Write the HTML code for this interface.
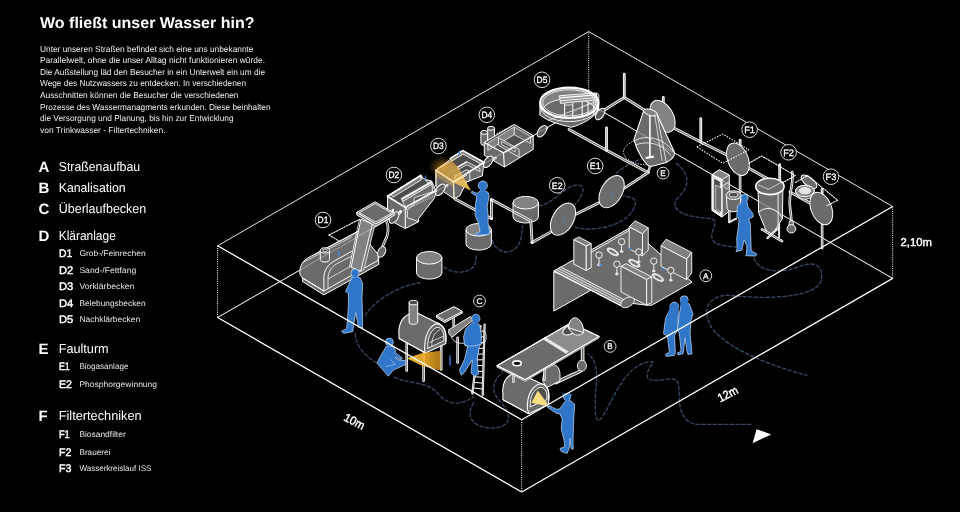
<!DOCTYPE html>
<html><head><meta charset="utf-8"><title>Wo fließt unser Wasser hin?</title>
<style>
html,body{margin:0;padding:0;background:#000;}
body{width:960px;height:512px;overflow:hidden;font-family:"Liberation Sans",sans-serif;}
svg{display:block;font-family:"Liberation Sans",sans-serif;will-change:transform;transform:translateZ(0);text-rendering:geometricPrecision;-webkit-font-smoothing:antialiased;}
</style></head><body>
<svg width="960" height="512" viewBox="0 0 960 512">
<rect width="960" height="512" fill="#000"/>
<text x="40" y="28.2" font-size="15.6" font-weight="bold" fill="#ffffff" text-anchor="start" textLength="214.5" lengthAdjust="spacingAndGlyphs" >Wo fließt unser Wasser hin?</text>
<text x="40" y="51.5" font-size="8.6" font-weight="normal" fill="#ededed" text-anchor="start" textLength="213.5" lengthAdjust="spacingAndGlyphs" >Unter unseren Straßen befindet sich eine uns unbekannte</text>
<text x="40" y="63.15" font-size="8.6" font-weight="normal" fill="#ededed" text-anchor="start" textLength="225" lengthAdjust="spacingAndGlyphs" >Parallelwelt, ohne die unser Alltag nicht funktionieren würde.</text>
<text x="40" y="74.8" font-size="8.6" font-weight="normal" fill="#ededed" text-anchor="start" textLength="225" lengthAdjust="spacingAndGlyphs" >Die Außstellung läd den Besucher in ein Unterwelt ein um die</text>
<text x="40" y="86.45" font-size="8.6" font-weight="normal" fill="#ededed" text-anchor="start" textLength="206" lengthAdjust="spacingAndGlyphs" >Wege des Nutzwassers zu entdecken. In verschiedenen</text>
<text x="40" y="98.1" font-size="8.6" font-weight="normal" fill="#ededed" text-anchor="start" textLength="198.5" lengthAdjust="spacingAndGlyphs" >Ausschnitten können die Besucher die verschiedenen</text>
<text x="40" y="109.75" font-size="8.6" font-weight="normal" fill="#ededed" text-anchor="start" textLength="230.5" lengthAdjust="spacingAndGlyphs" >Prozesse des Wassermanagments erkunden. Diese beinhalten</text>
<text x="40" y="121.4" font-size="8.6" font-weight="normal" fill="#ededed" text-anchor="start" textLength="193.5" lengthAdjust="spacingAndGlyphs" >die Versorgung und Planung, bis hin zur Entwicklung</text>
<text x="40" y="133.05" font-size="8.6" font-weight="normal" fill="#ededed" text-anchor="start" textLength="125.5" lengthAdjust="spacingAndGlyphs" >von Trinkwasser - Filtertechniken.</text>
<text x="38.6" y="172.2" font-size="15" font-weight="bold" fill="#ffffff" text-anchor="start" >A</text>
<text x="58.7" y="171.1" font-size="13" font-weight="normal" fill="#ffffff" text-anchor="start" textLength="81.4" lengthAdjust="spacingAndGlyphs" >Straßenaufbau</text>
<text x="38.6" y="193.2" font-size="15" font-weight="bold" fill="#ffffff" text-anchor="start" >B</text>
<text x="58.7" y="192.1" font-size="13" font-weight="normal" fill="#ffffff" text-anchor="start" textLength="66.9" lengthAdjust="spacingAndGlyphs" >Kanalisation</text>
<text x="38.6" y="213.8" font-size="15" font-weight="bold" fill="#ffffff" text-anchor="start" >C</text>
<text x="58.7" y="212.7" font-size="13" font-weight="normal" fill="#ffffff" text-anchor="start" textLength="87.6" lengthAdjust="spacingAndGlyphs" >Überlaufbecken</text>
<text x="38.6" y="240.9" font-size="15" font-weight="bold" fill="#ffffff" text-anchor="start" >D</text>
<text x="58.7" y="239.8" font-size="13" font-weight="normal" fill="#ffffff" text-anchor="start" textLength="57.1" lengthAdjust="spacingAndGlyphs" >Kläranlage</text>
<text x="38.6" y="354.1" font-size="15" font-weight="bold" fill="#ffffff" text-anchor="start" >E</text>
<text x="58.7" y="353" font-size="13" font-weight="normal" fill="#ffffff" text-anchor="start" textLength="50" lengthAdjust="spacingAndGlyphs" >Faulturm</text>
<text x="38.6" y="420.6" font-size="15" font-weight="bold" fill="#ffffff" text-anchor="start" >F</text>
<text x="58.7" y="419.5" font-size="13" font-weight="normal" fill="#ffffff" text-anchor="start" textLength="83" lengthAdjust="spacingAndGlyphs" >Filtertechniken</text>
<text x="58.9" y="257.4" font-size="11" font-weight="normal" fill="#ffffff" text-anchor="start" textLength="13.3" lengthAdjust="spacingAndGlyphs" stroke="#fff" stroke-width="0.45">D1</text>
<text x="79.4" y="255.9" font-size="8.2" font-weight="normal" fill="#e6e6e6" text-anchor="start" textLength="66.2" lengthAdjust="spacingAndGlyphs" >Grob-/Feinrechen</text>
<text x="58.9" y="273.7" font-size="11" font-weight="normal" fill="#ffffff" text-anchor="start" textLength="14.3" lengthAdjust="spacingAndGlyphs" stroke="#fff" stroke-width="0.45">D2</text>
<text x="79.4" y="272.9" font-size="8.2" font-weight="normal" fill="#e6e6e6" text-anchor="start" textLength="56.8" lengthAdjust="spacingAndGlyphs" >Sand-/Fettfang</text>
<text x="58.9" y="290" font-size="11" font-weight="normal" fill="#ffffff" text-anchor="start" textLength="14.3" lengthAdjust="spacingAndGlyphs" stroke="#fff" stroke-width="0.45">D3</text>
<text x="79.4" y="289.2" font-size="8.2" font-weight="normal" fill="#e6e6e6" text-anchor="start" textLength="55" lengthAdjust="spacingAndGlyphs" >Vorklärbecken</text>
<text x="58.9" y="306.6" font-size="11" font-weight="normal" fill="#ffffff" text-anchor="start" textLength="14.3" lengthAdjust="spacingAndGlyphs" stroke="#fff" stroke-width="0.45">D4</text>
<text x="79.4" y="305.8" font-size="8.2" font-weight="normal" fill="#e6e6e6" text-anchor="start" textLength="66.2" lengthAdjust="spacingAndGlyphs" >Belebungsbecken</text>
<text x="58.9" y="322.9" font-size="11" font-weight="normal" fill="#ffffff" text-anchor="start" textLength="14.3" lengthAdjust="spacingAndGlyphs" stroke="#fff" stroke-width="0.45">D5</text>
<text x="79.4" y="322.1" font-size="8.2" font-weight="normal" fill="#e6e6e6" text-anchor="start" textLength="60.8" lengthAdjust="spacingAndGlyphs" >Nachklärbecken</text>
<text x="58.9" y="370.2" font-size="11" font-weight="normal" fill="#ffffff" text-anchor="start" textLength="10.9" lengthAdjust="spacingAndGlyphs" stroke="#fff" stroke-width="0.45">E1</text>
<text x="79.4" y="369.4" font-size="8.2" font-weight="normal" fill="#e6e6e6" text-anchor="start" textLength="49" lengthAdjust="spacingAndGlyphs" >Biogasanlage</text>
<text x="58.9" y="387.5" font-size="11" font-weight="normal" fill="#ffffff" text-anchor="start" textLength="13" lengthAdjust="spacingAndGlyphs" stroke="#fff" stroke-width="0.45">E2</text>
<text x="79.4" y="386.7" font-size="8.2" font-weight="normal" fill="#e6e6e6" text-anchor="start" textLength="77.7" lengthAdjust="spacingAndGlyphs" >Phosphorgewinnung</text>
<text x="58.9" y="438" font-size="11" font-weight="normal" fill="#ffffff" text-anchor="start" textLength="10.9" lengthAdjust="spacingAndGlyphs" stroke="#fff" stroke-width="0.45">F1</text>
<text x="79.4" y="437.2" font-size="8.2" font-weight="normal" fill="#e6e6e6" text-anchor="start" textLength="46.3" lengthAdjust="spacingAndGlyphs" >Biosandfilter</text>
<text x="58.9" y="456.1" font-size="11" font-weight="normal" fill="#ffffff" text-anchor="start" textLength="12.4" lengthAdjust="spacingAndGlyphs" stroke="#fff" stroke-width="0.45">F2</text>
<text x="79.4" y="455.3" font-size="8.2" font-weight="normal" fill="#e6e6e6" text-anchor="start" textLength="31.1" lengthAdjust="spacingAndGlyphs" >Brauerei</text>
<text x="58.9" y="472.2" font-size="11" font-weight="normal" fill="#ffffff" text-anchor="start" textLength="12.4" lengthAdjust="spacingAndGlyphs" stroke="#fff" stroke-width="0.45">F3</text>
<text x="79.4" y="471.4" font-size="8.2" font-weight="normal" fill="#e6e6e6" text-anchor="start" textLength="72" lengthAdjust="spacingAndGlyphs" >Wasserkreislauf ISS</text>
<line x1="217.6" y1="317.5" x2="588.7" y2="103.6" stroke="#ffffff" stroke-width="0.9" />
<line x1="588.7" y1="103.6" x2="892.7" y2="278.4" stroke="#ffffff" stroke-width="0.9" />
<line x1="217.6" y1="245.8" x2="588.7" y2="31.6" stroke="#ffffff" stroke-width="0.9" />
<line x1="588.7" y1="31.6" x2="892.7" y2="206.5" stroke="#ffffff" stroke-width="0.9" />
<line x1="588.7" y1="31.6" x2="588.7" y2="103.6" stroke="#ffffff" stroke-width="1" stroke-dasharray="1 1.2"/>
<path d="M420.5,282.7 C400.2,285.4 374.8,299.1 364.3,316.7" fill="none" stroke="#384a62" stroke-width="1.3" stroke-linejoin="round" stroke-linecap="round" stroke-dasharray="3.4 2.3"/>
<path d="M355.3,333.5 C355.3,347.9 369,359.6 381.5,365.5" fill="none" stroke="#384a62" stroke-width="1.3" stroke-linejoin="round" stroke-linecap="round" stroke-dasharray="3.4 2.3"/>
<path d="M394.4,377.2 C408,384.3 427.6,381.1 437.3,392.9 S458.8,406.5 473.7,396.8" fill="none" stroke="#384a62" stroke-width="1.3" stroke-linejoin="round" stroke-linecap="round" stroke-dasharray="3.4 2.3"/>
<path d="M473.7,402.6 C462.7,420.2 478.4,428.8 494,428 S513.5,416.3 501,402.6 S494,381.1 502.6,371.4" fill="none" stroke="#384a62" stroke-width="1.3" stroke-linejoin="round" stroke-linecap="round" stroke-dasharray="3.4 2.3"/>
<path d="M444,267 C453,274.8 470.6,273.7 475.2,263.9 L476.4,254.1" fill="none" stroke="#384a62" stroke-width="1.3" stroke-linejoin="round" stroke-linecap="round" stroke-dasharray="3.4 2.3"/>
<path d="M492.3,240.4 C496.7,255 516.2,257.5 521.1,237.9 L522.6,225.7" fill="none" stroke="#384a62" stroke-width="1.3" stroke-linejoin="round" stroke-linecap="round" stroke-dasharray="3.4 2.3"/>
<path d="M539.2,205.7 C552.4,204.4 562.5,187.9 575.2,185.4 S582.9,195.6 575.2,204.4" fill="none" stroke="#384a62" stroke-width="1.3" stroke-linejoin="round" stroke-linecap="round" stroke-dasharray="3.4 2.3"/>
<path d="M575.2,227.3 C593,232.4 623.5,226 632.4,210.8 S628.6,198.1 623.5,195.6" fill="none" stroke="#384a62" stroke-width="1.3" stroke-linejoin="round" stroke-linecap="round" stroke-dasharray="3.4 2.3"/>
<path d="M612.8,177.7 C618.6,169.1 632.3,161.3 645.2,158.1" fill="none" stroke="#384a62" stroke-width="1.3" stroke-linejoin="round" stroke-linecap="round" stroke-dasharray="3.4 2.3"/>
<path d="M676.5,163.2 C690.9,174.9 689,186.7 679.2,196.4 S677.2,214 694.8,216.8 S718.3,216 713.2,229.6 S716.3,245.3 736.6,247.2" fill="none" stroke="#384a62" stroke-width="1.3" stroke-linejoin="round" stroke-linecap="round" stroke-dasharray="3.4 2.3"/>
<path d="M754.2,258.2 C757.3,270.7 778.8,274.6 798.4,266.8 S823.8,268.7 821,280.4 S794.5,297.3 763.2,297.3 S724.1,292.2 714.4,298.8 S704.6,313.7 710.4,325.4 S743.7,358.6 807,375.4" fill="none" stroke="#384a62" stroke-width="1.3" stroke-linejoin="round" stroke-linecap="round" stroke-dasharray="3.4 2.3"/>
<path d="M750.7,424.4 L696.8,424.4 C683.1,422.4 679.2,410.7 679.2,395 S677.2,377.5 665.5,379.4 S644,381.4 647.9,371.6 S657.7,360.7 647.9,362.2 C626.4,365.7 614.7,395 606.1,410.7 S595.2,422.4 595.2,402.9 S601,363.8 588.1,354" fill="none" stroke="#384a62" stroke-width="1.3" stroke-linejoin="round" stroke-linecap="round" stroke-dasharray="3.4 2.3"/>
<polyline points="599.9,112.8 624.3,97.5 643.8,109.7" fill="none" stroke="#ffffff" stroke-width="2.8" stroke-linejoin="round" stroke-linecap="round" />
<polyline points="599.9,112.8 624.3,97.5 643.8,109.7" fill="none" stroke="#6a6a6a" stroke-width="1.1" stroke-linejoin="round" stroke-linecap="round" />
<polyline points="624.3,74.1 624.3,97.5" fill="none" stroke="#ffffff" stroke-width="2.8" stroke-linejoin="round" stroke-linecap="round" />
<polyline points="624.3,74.1 624.3,97.5" fill="none" stroke="#b5b5b5" stroke-width="1.1" stroke-linejoin="round" stroke-linecap="round" />
<polyline points="663.3,97.5 663.3,104.6" fill="none" stroke="#ffffff" stroke-width="2.8" stroke-linejoin="round" stroke-linecap="round" />
<polyline points="663.3,97.5 663.3,104.6" fill="none" stroke="#b5b5b5" stroke-width="1.1" stroke-linejoin="round" stroke-linecap="round" />
<polyline points="569,129.5 606.5,150.3 648,172.6" fill="none" stroke="#ffffff" stroke-width="2.8" stroke-linejoin="round" stroke-linecap="round" />
<polyline points="569,129.5 606.5,150.3 648,172.6" fill="none" stroke="#6a6a6a" stroke-width="1.1" stroke-linejoin="round" stroke-linecap="round" />
<polyline points="606.5,128 606.5,150.3" fill="none" stroke="#ffffff" stroke-width="2.8" stroke-linejoin="round" stroke-linecap="round" />
<polyline points="606.5,128 606.5,150.3" fill="none" stroke="#b5b5b5" stroke-width="1.1" stroke-linejoin="round" stroke-linecap="round" />
<polyline points="673.8,128 700.8,142.1 737,160" fill="none" stroke="#ffffff" stroke-width="2.8" stroke-linejoin="round" stroke-linecap="round" />
<polyline points="673.8,128 700.8,142.1 737,160" fill="none" stroke="#6a6a6a" stroke-width="1.1" stroke-linejoin="round" stroke-linecap="round" />
<polyline points="700.8,118.6 700.8,142.1" fill="none" stroke="#ffffff" stroke-width="2.8" stroke-linejoin="round" stroke-linecap="round" />
<polyline points="700.8,118.6 700.8,142.1" fill="none" stroke="#b5b5b5" stroke-width="1.1" stroke-linejoin="round" stroke-linecap="round" />
<polyline points="745,166 780,186" fill="none" stroke="#ffffff" stroke-width="2.8" stroke-linejoin="round" stroke-linecap="round" />
<polyline points="745,166 780,186" fill="none" stroke="#6a6a6a" stroke-width="1.1" stroke-linejoin="round" stroke-linecap="round" />
<polyline points="790,192 826,212" fill="none" stroke="#ffffff" stroke-width="2.8" stroke-linejoin="round" stroke-linecap="round" />
<polyline points="790,192 826,212" fill="none" stroke="#6a6a6a" stroke-width="1.1" stroke-linejoin="round" stroke-linecap="round" />
<path d="M540.1,102.8 L539.8,114.8 C548.1,121.8 561.3,124.8 571.3,127.3 C581.3,124.8 596.5,116.8 598.5,108.8 L598.5,102.8 Z" fill="#6b6b6b" stroke="#ffffff" stroke-width="1" stroke-linejoin="round" stroke-linecap="round" />
<clipPath id="d5c"><ellipse cx="569.3" cy="102.8" rx="29.2" ry="15.2"/></clipPath>
<ellipse cx="569.3" cy="102.8" rx="29.2" ry="15.2" transform="rotate(0 569.3 102.8)" fill="#828282" stroke="#ffffff" stroke-width="0" />
<g clip-path="url(#d5c)">
<ellipse cx="569.3" cy="111.3" rx="26.7" ry="12.7" transform="rotate(0 569.3 111.3)" fill="#6b6b6b" stroke="#ffffff" stroke-width="0.9" />
</g>
<polygon points="559.3,95.8 596.2,92.9 596.8,99.9 560.5,103.4" fill="#9a9a9a" stroke="#ffffff" stroke-width="0.9" stroke-linejoin="round" />
<line x1="559.7" y1="97.8" x2="596.5" y2="94.9" stroke="#ffffff" stroke-width="1.3" />
<line x1="560.2" y1="100.8" x2="596.7" y2="97.6" stroke="#ffffff" stroke-width="0.8" />
<line x1="564.6" y1="103.4" x2="564.6" y2="118.1" stroke="#ffffff" stroke-width="1" />
<line x1="572.8" y1="103" x2="572.8" y2="117.6" stroke="#ffffff" stroke-width="1" />
<line x1="582.2" y1="102" x2="582.2" y2="116.7" stroke="#ffffff" stroke-width="1" />
<line x1="588" y1="101.5" x2="588" y2="116.2" stroke="#ffffff" stroke-width="1" />
<line x1="593.9" y1="100.8" x2="593.9" y2="115.5" stroke="#ffffff" stroke-width="1" />
<line x1="564.6" y1="105.2" x2="572.2" y2="104.8" stroke="#ffffff" stroke-width="0.8" />
<polygon points="596.8,93.1 598.8,94.6 598.8,108.7 596.8,107.5" fill="none" stroke="#ffffff" stroke-width="0.9" stroke-linejoin="round" />
<line x1="548.2" y1="120.4" x2="593.9" y2="102.2" stroke="#ffffff" stroke-width="0.7" />
<ellipse cx="569.3" cy="102.8" rx="29.2" ry="15.2" transform="rotate(0 569.3 102.8)" fill="none" stroke="#ffffff" stroke-width="2.2" />
<ellipse cx="569.3" cy="102.8" rx="26.6" ry="13" transform="rotate(0 569.3 102.8)" fill="none" stroke="#ffffff" stroke-width="0.8" />
<path d="M540.1,106.4 A29.2,15.2 0 0 0 598.5,106.4" fill="none" stroke="#ffffff" stroke-width="0.9" stroke-linejoin="round" stroke-linecap="round" />
<polyline points="540,132.5 547,128" fill="none" stroke="#ffffff" stroke-width="2.4" stroke-linejoin="round" stroke-linecap="round" />
<polyline points="540,132.5 547,128" fill="none" stroke="#6a6a6a" stroke-width="0.7" stroke-linejoin="round" stroke-linecap="round" />
<ellipse cx="542" cy="131.2" rx="3.6" ry="6.6" transform="rotate(36 542 131.2)" fill="#5a5a5a" stroke="#ffffff" stroke-width="1" />
<ellipse cx="600.2" cy="114" rx="3.6" ry="6.6" transform="rotate(36 600.2 114)" fill="#5a5a5a" stroke="#ffffff" stroke-width="1" />
<path d="M480.9,132.4 L480.9,143.4 A3.4,2 0 0 0 487.7,143.4 L487.7,132.4 Z" fill="#6b6b6b" stroke="#ffffff" stroke-width="1" stroke-linejoin="round" stroke-linecap="round" />
<ellipse cx="484.3" cy="132.4" rx="3.4" ry="2" transform="rotate(0 484.3 132.4)" fill="#4d4d4d" stroke="#ffffff" stroke-width="1" />
<path d="M487.7,128.3 L487.7,139.3 A3.4,2 0 0 0 494.5,139.3 L494.5,128.3 Z" fill="#6b6b6b" stroke="#ffffff" stroke-width="1" stroke-linejoin="round" stroke-linecap="round" />
<ellipse cx="491.1" cy="128.3" rx="3.4" ry="2" transform="rotate(0 491.1 128.3)" fill="#4d4d4d" stroke="#ffffff" stroke-width="1" />
<polygon points="484.3,142.5 514.2,124.6 533.2,135.7 533.2,149.4 504.4,167 484.3,155.2" fill="#6b6b6b" stroke="#ffffff" stroke-width="1" stroke-linejoin="round" />
<polygon points="484.3,142.5 514.2,124.6 533.2,135.7 503.5,152.7" fill="#4d4d4d" stroke="#ffffff" stroke-width="0.9" stroke-linejoin="round" />
<polygon points="514.2,126.9 530.4,136.3 530.4,143.5 514.2,134.7" fill="#6b6b6b" stroke="#ffffff" stroke-width="0.7" stroke-linejoin="round" />
<polygon points="487.8,142.9 514.2,126.9 514.2,134.7 487.8,150.4" fill="#828282" stroke="#ffffff" stroke-width="0.7" stroke-linejoin="round" />
<polygon points="498.6,137.7 519.1,149.4 519.1,157.2 498.6,145.5" fill="#6b6b6b" stroke="#ffffff" stroke-width="0.8" stroke-linejoin="round" />
<polygon points="501.5,141.6 515.2,148.8 515.2,151.9 501.5,144.5" fill="#4d4d4d" stroke="#ffffff" stroke-width="0.7" stroke-linejoin="round" />
<polyline points="484.3,142.5 503.5,152.7 533.2,135.7" fill="none" stroke="#ffffff" stroke-width="1.1" stroke-linejoin="round" stroke-linecap="round" />
<line x1="503.5" y1="152.7" x2="504.4" y2="167" stroke="#ffffff" stroke-width="1.1" />
<line x1="505.4" y1="152.3" x2="519.1" y2="144.5" stroke="#ffffff" stroke-width="0.7" />
<line x1="496.6" y1="133.7" x2="512.2" y2="125.9" stroke="#ffffff" stroke-width="1" stroke-dasharray="1.5 1.2"/>
<polyline points="488.8,162.1 495.6,157.8" fill="none" stroke="#ffffff" stroke-width="2.4" stroke-linejoin="round" stroke-linecap="round" />
<polyline points="488.8,162.1 495.6,157.8" fill="none" stroke="#6a6a6a" stroke-width="0.7" stroke-linejoin="round" stroke-linecap="round" />
<ellipse cx="488.2" cy="161.7" rx="3.6" ry="6.6" transform="rotate(36 488.2 161.7)" fill="#5a5a5a" stroke="#ffffff" stroke-width="1" />
<polygon points="435.9,170.2 462.8,150.6 483.9,162.3 482.3,175.9 466.7,181.9 459.7,195.9 454.2,198.8 435.9,186.6" fill="#6b6b6b" stroke="#ffffff" stroke-width="1" stroke-linejoin="round" />
<polygon points="435.9,170.2 462.8,150.6 483.9,162.3 453.4,181.9" fill="#4d4d4d" stroke="#ffffff" stroke-width="0.9" stroke-linejoin="round" />
<polygon points="450.3,158.4 462.8,150.6 483.9,162.3 481.6,164.4 463.1,154.1 451.9,160.8" fill="#828282" stroke="#ffffff" stroke-width="0.8" stroke-linejoin="round" />
<polygon points="457.3,167 466.7,161.6 480,168.6 480,171.7 466.7,164.7 458.1,169.7" fill="#6b6b6b" stroke="#ffffff" stroke-width="0.8" stroke-linejoin="round" />
<polygon points="455,175.9 466.7,169.7 469.8,171.2 469.8,180.3 466.7,181.9 455,181.9" fill="#6b6b6b" stroke="#ffffff" stroke-width="0.8" stroke-linejoin="round" />
<polyline points="435.9,170.2 453.4,181.9 483.9,162.3" fill="none" stroke="#ffffff" stroke-width="1.5" stroke-linejoin="round" stroke-linecap="round" />
<polyline points="450.3,158.4 462.8,150.6 483.9,162.3" fill="none" stroke="#ffffff" stroke-width="1.6" stroke-linejoin="round" stroke-linecap="round" />
<line x1="457.8" y1="167" x2="466.9" y2="161.9" stroke="#ffffff" stroke-width="1.4" />
<line x1="453.4" y1="181.9" x2="454.2" y2="198.8" stroke="#ffffff" stroke-width="1.1" />
<path d="M458.9,154.5 l0.6,-3.5" fill="none" stroke="#3b86e0" stroke-width="1.3" stroke-linejoin="round" stroke-linecap="round" />
<defs><linearGradient id="lg1" x1="1" y1="1" x2="0" y2="0"><stop offset="0" stop-color="#f9cc55" stop-opacity="0.95"/><stop offset="0.45" stop-color="#f5c050" stop-opacity="0.7"/><stop offset="1" stop-color="#efb040" stop-opacity="0.42"/></linearGradient></defs>
<defs><radialGradient id="rg1"><stop offset="0" stop-color="#f0a828" stop-opacity="0.55"/><stop offset="1" stop-color="#e89a20" stop-opacity="0"/></radialGradient></defs>
<ellipse cx="443.3" cy="167" rx="15" ry="11" fill="url(#rg1)"/>
<polygon points="470.9,190.5 453.4,182.8 435.9,171.2 437.8,167 451.9,160.9 459.4,169.1" fill="url(#lg1)" stroke="none" stroke-width="1" stroke-linejoin="round" />
<polygon points="435.9,170.6 453.4,182.2 453.4,187.3 435.9,175.9" fill="#f0b848" stroke="none" stroke-width="1" stroke-linejoin="round" opacity="0.35"/>
<polyline points="435.9,170.2 453.4,181.9 466.7,175.3" fill="none" stroke="#fbe9c0" stroke-width="0.9" stroke-linejoin="round" stroke-linecap="round" />
<polyline points="450.3,158.4 451.9,160.8 463.1,154.1" fill="none" stroke="#fbe9c0" stroke-width="0.7" stroke-linejoin="round" stroke-linecap="round" />
<line x1="435.9" y1="170.2" x2="451.9" y2="160.5" stroke="#fbe9c0" stroke-width="0.8" />
<line x1="453.4" y1="181.9" x2="453.8" y2="197.5" stroke="#f7e3b0" stroke-width="0.8" />
<line x1="435.9" y1="170.2" x2="435.9" y2="186.6" stroke="#f7e3b0" stroke-width="0.8" />
<polyline points="440.9,189.4 447.2,185.3" fill="none" stroke="#ffffff" stroke-width="2.4" stroke-linejoin="round" stroke-linecap="round" />
<polyline points="440.9,189.4 447.2,185.3" fill="none" stroke="#6a6a6a" stroke-width="0.7" stroke-linejoin="round" stroke-linecap="round" />
<ellipse cx="440.3" cy="189.7" rx="3.6" ry="6.6" transform="rotate(36 440.3 189.7)" fill="#5a5a5a" stroke="#ffffff" stroke-width="1" />
<polyline points="455,199.1 491.4,218.4" fill="none" stroke="#ffffff" stroke-width="2.8" stroke-linejoin="round" stroke-linecap="round" />
<polyline points="455,199.1 491.4,218.4" fill="none" stroke="#6a6a6a" stroke-width="1.1" stroke-linejoin="round" stroke-linecap="round" />
<polygon points="387.5,196.2 421,175.3 421.7,178.4 431.7,181.1 436.1,190.7 434.7,197.8 418.6,218.6 418.6,221.7 405.3,228.6 387.5,219" fill="#6b6b6b" stroke="#ffffff" stroke-width="1" stroke-linejoin="round" />
<polygon points="387.5,196.2 421,175.7 436.1,190.7 405.3,207.4" fill="#4d4d4d" stroke="#ffffff" stroke-width="0.9" stroke-linejoin="round" />
<polygon points="390.3,194.4 421,175.7 421,180 393,197.1" fill="#828282" stroke="#ffffff" stroke-width="0.8" stroke-linejoin="round" />
<polygon points="401.2,198.5 431.3,181.4 432,184.1 402.6,201.6" fill="#828282" stroke="#ffffff" stroke-width="0.8" stroke-linejoin="round" />
<polygon points="402.6,201.6 432,184.1 432.6,191.7 414.2,197.8 414.2,204.6 407.3,210.1" fill="#6b6b6b" stroke="#ffffff" stroke-width="0.8" stroke-linejoin="round" />
<line x1="408.7" y1="208.1" x2="434" y2="195.8" stroke="#bdbdbd" stroke-width="1.6" stroke-dasharray="1 1"/>
<polyline points="387.5,196.2 405.3,207.4 435.4,190.7" fill="none" stroke="#ffffff" stroke-width="1.6" stroke-linejoin="round" stroke-linecap="round" />
<polyline points="387.5,196.2 421,175.3 421.7,178.4" fill="none" stroke="#ffffff" stroke-width="1.7" stroke-linejoin="round" stroke-linecap="round" />
<line x1="401.9" y1="199.2" x2="431.7" y2="182.1" stroke="#ffffff" stroke-width="1.5" />
<line x1="405.3" y1="207.4" x2="405.3" y2="228.6" stroke="#ffffff" stroke-width="1.1" />
<polyline points="407.3,210.8 407.3,217.6 418.6,221.7" fill="none" stroke="#ffffff" stroke-width="0.9" stroke-linejoin="round" stroke-linecap="round" />
<line x1="407.3" y1="217.6" x2="418.6" y2="218.6" stroke="#ffffff" stroke-width="0" />
<path d="M425.1,179.4 l0.8,-3.5" fill="none" stroke="#3b86e0" stroke-width="1.3" stroke-linejoin="round" stroke-linecap="round" />
<polyline points="393.7,217.6 400.5,212.2" fill="none" stroke="#ffffff" stroke-width="2.6" stroke-linejoin="round" stroke-linecap="round" />
<polyline points="393.7,217.6 400.5,212.2" fill="none" stroke="#6a6a6a" stroke-width="0.9" stroke-linejoin="round" stroke-linecap="round" />
<ellipse cx="394.1" cy="217.6" rx="3.6" ry="6.6" transform="rotate(36 394.1 217.6)" fill="#5a5a5a" stroke="#ffffff" stroke-width="1" />
<ellipse cx="393" cy="210.1" rx="1.3" ry="1.3" transform="rotate(0 393 210.1)" fill="#ffffff" stroke="none" stroke-width="1" />
<ellipse cx="400.5" cy="211.2" rx="1.3" ry="1.3" transform="rotate(0 400.5 211.2)" fill="#ffffff" stroke="none" stroke-width="1" />
<polyline points="329,235 359.8,219.2" fill="none" stroke="#ffffff" stroke-width="1.05" stroke-linejoin="round" stroke-linecap="round" stroke-dasharray="1.5 1.3"/>
<polyline points="329,235 339.3,241.2" fill="none" stroke="#ffffff" stroke-width="1.05" stroke-linejoin="round" stroke-linecap="round" stroke-dasharray="1.5 1.3"/>
<polygon points="302.7,276.7 302.7,281.6 323.9,294.9 378.7,264.4 378.7,256.6 357.7,246.3" fill="#6b6b6b" stroke="#ffffff" stroke-width="1" stroke-linejoin="round" />
<path d="M299.9,274 C299.2,263.7 304.4,259 313.6,254.9 L358.7,230.9 L378.2,254.5 L378.2,260.3 L323.9,291 L302.7,278.1 Z" fill="#6b6b6b" stroke="#ffffff" stroke-width="1" stroke-linejoin="round" stroke-linecap="round" />
<line x1="313.6" y1="254.9" x2="357.7" y2="231.9" stroke="#ffffff" stroke-width="0.8" />
<line x1="302.3" y1="262.7" x2="351.6" y2="237.1" stroke="#ffffff" stroke-width="0.7" />
<path d="M323.9,291 L323.9,278.1 C323.9,269.9 328,264.8 334.1,261.1 L351.6,251.4" fill="none" stroke="#ffffff" stroke-width="1" stroke-linejoin="round" stroke-linecap="round" />
<path d="M328,288.4 L328,279.1 C328,272 331,267.2 336.8,263.7 L351.6,256.2" fill="none" stroke="#ffffff" stroke-width="0.8" stroke-linejoin="round" stroke-linecap="round" />
<line x1="328" y1="279.1" x2="351.6" y2="265.8" stroke="#ffffff" stroke-width="0.7" />
<line x1="323.9" y1="291" x2="302.7" y2="278.1" stroke="#ffffff" stroke-width="1" />
<path d="M320.3,250.4 L320.3,259.4 A4.6,2.6 0 0 0 329.5,259.4 L329.5,250.4 Z" fill="#6b6b6b" stroke="#ffffff" stroke-width="1" stroke-linejoin="round" stroke-linecap="round" />
<ellipse cx="324.9" cy="250.4" rx="4.6" ry="2.6" transform="rotate(0 324.9 250.4)" fill="#4d4d4d" stroke="#ffffff" stroke-width="1" />
<ellipse cx="324.9" cy="250.4" rx="2.4" ry="1.3" transform="rotate(0 324.9 250.4)" fill="none" stroke="#ffffff" stroke-width="0.7" />
<path d="M338.8,254.9 l0,-3.5" fill="none" stroke="#3b86e0" stroke-width="1.6" stroke-linejoin="round" stroke-linecap="round" />
<path d="M386.4,220.7 C389.5,227.8 388.1,236 384.8,241.2 C383.4,244.3 382.3,247.3 381.9,248.8" fill="none" stroke="#ffffff" stroke-width="2.6" stroke-linejoin="round" stroke-linecap="round" />
<path d="M386.4,220.7 C389.5,227.8 388.1,236 384.8,241.2 C383.4,244.3 382.3,247.3 381.9,248.8" fill="none" stroke="#3c3c3c" stroke-width="1" stroke-linejoin="round" stroke-linecap="round" />
<ellipse cx="381.7" cy="251.8" rx="3.6" ry="5.6" transform="rotate(28 381.7 251.8)" fill="#6b6b6b" stroke="#ffffff" stroke-width="1" />
<polygon points="351.2,267.2 360.8,271.3 372.5,224.1 360.8,219.2" fill="#828282" stroke="#ffffff" stroke-width="1" stroke-linejoin="round" />
<polygon points="360.8,271.3 363.9,269.3 375.2,223.7 372.5,224.1" fill="#6b6b6b" stroke="#ffffff" stroke-width="0.8" stroke-linejoin="round" />
<line x1="349.5" y1="266.8" x2="359.4" y2="219.2" stroke="#ffffff" stroke-width="0.8" />
<polygon points="356.7,212.4 375.2,201.8 394.2,213.1 375.8,224.1" fill="#6b6b6b" stroke="#ffffff" stroke-width="1" stroke-linejoin="round" />
<polygon points="356.7,212.4 375.8,224.1 394.2,213.1 394.2,215.1 375.8,226.6 356.7,214.9" fill="#828282" stroke="#ffffff" stroke-width="0.9" stroke-linejoin="round" />
<polygon points="359.4,212.6 375.2,203.6 391.6,213.1 375.8,222.1" fill="#6b6b6b" stroke="#ffffff" stroke-width="0.8" stroke-linejoin="round" />
<ellipse cx="392.6" cy="211" rx="1.3" ry="1.3" transform="rotate(0 392.6 211)" fill="#ffffff" stroke="none" stroke-width="1" />
<ellipse cx="648" cy="151.9" rx="24.5" ry="13" fill="none" stroke="#fff" stroke-width="1" stroke-dasharray="1.3 1.3"/>
<ellipse cx="662.6" cy="116.3" rx="10.44" ry="17.4" transform="rotate(-30 662.6 116.3)" fill="#828282" stroke="#ffffff" stroke-width="1" />
<path d="M643.8,110.4 L633.9,139.7 C637.5,152.6 644.5,163.2 649.9,166.7 L666.3,162.5 C671.5,159.7 675,156.2 674.5,152.6 L657.4,115.1 C656.2,110.4 648,108.8 643.8,110.4 Z" fill="#6b6b6b" stroke="#ffffff" stroke-width="1.1" stroke-linejoin="round" stroke-linecap="round" />
<ellipse cx="650.4" cy="112.5" rx="7" ry="3" transform="rotate(18 650.4 112.5)" fill="#828282" stroke="#ffffff" stroke-width="0.9" />
<path d="M634.4,140.9 C643.3,135 662.1,136.2 673.3,151.5" fill="none" stroke="#ffffff" stroke-width="0.9" stroke-linejoin="round" stroke-linecap="round" stroke-dasharray="1.4 1.1"/>
<path d="M635.8,144.9 C645.7,140.9 660.9,142.1 670.3,155" fill="none" stroke="#ffffff" stroke-width="0.8" stroke-linejoin="round" stroke-linecap="round" />
<line x1="657.4" y1="116.3" x2="666.3" y2="162.5" stroke="#ffffff" stroke-width="0.8" />
<line x1="654.6" y1="114.4" x2="662.1" y2="160.8" stroke="#ffffff" stroke-width="0.7" />
<line x1="649.9" y1="115.1" x2="649.9" y2="157.3" stroke="#ffffff" stroke-width="1.6" />
<line x1="645.7" y1="158" x2="653.9" y2="156.6" stroke="#ffffff" stroke-width="2.2" />
<polyline points="648,172.6 649.9,166.7" fill="none" stroke="#ffffff" stroke-width="2.4" stroke-linejoin="round" stroke-linecap="round" />
<polyline points="648,172.6 649.9,166.7" fill="none" stroke="#6a6a6a" stroke-width="0.7" stroke-linejoin="round" stroke-linecap="round" />
<ellipse cx="648" cy="172.6" rx="1.6" ry="1.6" transform="rotate(0 648 172.6)" fill="#ffffff" stroke="none" stroke-width="1" />
<polyline points="624.8,187.9 648,172.6" fill="none" stroke="#ffffff" stroke-width="2.8" stroke-linejoin="round" stroke-linecap="round" />
<polyline points="624.8,187.9 648,172.6" fill="none" stroke="#6a6a6a" stroke-width="1.1" stroke-linejoin="round" stroke-linecap="round" />
<polyline points="575.2,214.6 600.6,201.9" fill="none" stroke="#ffffff" stroke-width="2.8" stroke-linejoin="round" stroke-linecap="round" />
<polyline points="575.2,214.6 600.6,201.9" fill="none" stroke="#6a6a6a" stroke-width="1.1" stroke-linejoin="round" stroke-linecap="round" />
<polyline points="491.4,218.4 491.4,199.4 530.8,221" fill="none" stroke="#ffffff" stroke-width="2.8" stroke-linejoin="round" stroke-linecap="round" />
<polyline points="491.4,218.4 491.4,199.4 530.8,221" fill="none" stroke="#6a6a6a" stroke-width="1.1" stroke-linejoin="round" stroke-linecap="round" />
<path d="M513,202.7 L513,216.7 A12.7,6.3 0 0 0 538.4,216.7 L538.4,202.7 Z" fill="#6b6b6b" stroke="#ffffff" stroke-width="1" stroke-linejoin="round" stroke-linecap="round" />
<ellipse cx="525.7" cy="202.7" rx="12.7" ry="6.3" transform="rotate(0 525.7 202.7)" fill="#828282" stroke="#ffffff" stroke-width="1" />
<polyline points="514.3,212.1 530.8,221 532.1,242.5 552.4,231.1" fill="none" stroke="#ffffff" stroke-width="2.8" stroke-linejoin="round" stroke-linecap="round" />
<polyline points="514.3,212.1 530.8,221 532.1,242.5 552.4,231.1" fill="none" stroke="#6a6a6a" stroke-width="1.1" stroke-linejoin="round" stroke-linecap="round" />
<ellipse cx="491.4" cy="199.9" rx="1.5" ry="1.5" transform="rotate(0 491.4 199.9)" fill="#ffffff" stroke="none" stroke-width="1" />
<ellipse cx="491.4" cy="218.4" rx="1.5" ry="1.5" transform="rotate(0 491.4 218.4)" fill="#ffffff" stroke="none" stroke-width="1" />
<ellipse cx="532.1" cy="242.5" rx="1.5" ry="1.5" transform="rotate(0 532.1 242.5)" fill="#ffffff" stroke="none" stroke-width="1" />
<ellipse cx="563" cy="219.2" rx="10.512" ry="17.52" transform="rotate(30 563 219.2)" fill="#6b6b6b" stroke="#ffffff" stroke-width="1" />
<ellipse cx="611.6" cy="191.7" rx="10.512" ry="17.52" transform="rotate(30 611.6 191.7)" fill="#6b6b6b" stroke="#ffffff" stroke-width="1" />
<path d="M565.1,217.1 l-1.5,6" fill="none" stroke="#5a84b8" stroke-width="0.8" stroke-linejoin="round" stroke-linecap="round" />
<path d="M613.3,190.5 l-1.5,6" fill="none" stroke="#5a84b8" stroke-width="0.8" stroke-linejoin="round" stroke-linecap="round" />
<path d="M466,229.8 L466,243.8 A12.7,6.3 0 0 0 491.4,243.8 L491.4,229.8 Z" fill="#6b6b6b" stroke="#ffffff" stroke-width="1" stroke-linejoin="round" stroke-linecap="round" />
<ellipse cx="478.7" cy="229.8" rx="12.7" ry="6.3" transform="rotate(0 478.7 229.8)" fill="#828282" stroke="#ffffff" stroke-width="1" />
<path d="M480.8,190.6 L476.9,193.4 L471.9,191.2 L471.2,192.8 L476.6,196.2 L475.3,205.9 L475,215.3 L478.4,223.1 L480,231.7 L475.3,233.8 L476.6,235.3 L488.6,234.5 L489.7,231.9 L488.1,223.1 L488.1,215.3 L487.2,205.9 L489.1,196.9 L488.3,192.8 L485.5,190.8 Z" fill="#2f75c8" stroke="#c4dbf6" stroke-width="0.7" stroke-linejoin="round"/>
<circle cx="482.8" cy="185.6" r="4.6" fill="#2f75c8" stroke="#c4dbf6" stroke-width="0.7"/>
<circle cx="482.8" cy="188.13" r="2.852" fill="#2f75c8"/>
<path d="M416.5,257.8 L416.5,272.8 A12.7,6.3 0 0 0 441.9,272.8 L441.9,257.8 Z" fill="#6b6b6b" stroke="#ffffff" stroke-width="1" stroke-linejoin="round" stroke-linecap="round" />
<ellipse cx="429.2" cy="257.8" rx="12.7" ry="6.3" transform="rotate(0 429.2 257.8)" fill="#828282" stroke="#ffffff" stroke-width="1" />
<polyline points="740.1,140.1 740.1,145.6" fill="none" stroke="#ffffff" stroke-width="2.8" stroke-linejoin="round" stroke-linecap="round" />
<polyline points="740.1,140.1 740.1,145.6" fill="none" stroke="#b5b5b5" stroke-width="1.1" stroke-linejoin="round" stroke-linecap="round" />
<polyline points="740.1,173.5 740.1,192.1" fill="none" stroke="#ffffff" stroke-width="2.6" stroke-linejoin="round" stroke-linecap="round" />
<polyline points="740.1,173.5 740.1,192.1" fill="none" stroke="#6a6a6a" stroke-width="0.9" stroke-linejoin="round" stroke-linecap="round" />
<ellipse cx="737.9" cy="159.2" rx="10.2" ry="17" transform="rotate(-22 737.9 159.2)" fill="#6b6b6b" stroke="#ffffff" stroke-width="1" />
<polygon points="712.1,174.6 719.5,169.8 729.3,175.2 729.3,211.2 721.9,217 712.1,210.4" fill="#6b6b6b" stroke="#ffffff" stroke-width="1" stroke-linejoin="round" />
<polygon points="712.1,174.6 719.5,169.8 729.3,175.2 721.9,179.5" fill="#828282" stroke="#ffffff" stroke-width="0.9" stroke-linejoin="round" />
<polygon points="712.1,174.6 721.9,179.5 721.9,217 712.1,210.4" fill="#e9e9e9" stroke="#ffffff" stroke-width="0.9" stroke-linejoin="round" />
<polygon points="713.7,178 720.3,181.5 720.3,213.7 713.7,209.2" fill="#4d4d4d" stroke="#ffffff" stroke-width="0.7" stroke-linejoin="round" />
<polygon points="715.6,185 721.9,188.5 721.9,212.7 715.6,208.8" fill="#6b6b6b" stroke="#ffffff" stroke-width="0.6" stroke-linejoin="round" />
<line x1="721.9" y1="179.5" x2="721.9" y2="217" stroke="#ffffff" stroke-width="1" />
<path d="M726.4,195.2 L727.1,208.2 A6.5,3.6 0 0 0 740.1,208.2 L740.8,195.2 Z" fill="#6b6b6b" stroke="#ffffff" stroke-width="1" stroke-linejoin="round" stroke-linecap="round" />
<ellipse cx="733.6" cy="195.2" rx="7.6" ry="4.4" transform="rotate(0 733.6 195.2)" fill="#828282" stroke="#ffffff" stroke-width="1" />
<ellipse cx="733.6" cy="194.7" rx="4.2" ry="2.3" transform="rotate(0 733.6 194.7)" fill="#4d4d4d" stroke="#ffffff" stroke-width="0.8" />
<polyline points="729.3,211.2 729.3,222.1" fill="none" stroke="#ffffff" stroke-width="2.4" stroke-linejoin="round" stroke-linecap="round" />
<polyline points="729.3,211.2 729.3,222.1" fill="none" stroke="#6a6a6a" stroke-width="0.7" stroke-linejoin="round" stroke-linecap="round" />
<polyline points="729.3,222.1 736.1,218.6" fill="none" stroke="#ffffff" stroke-width="2" stroke-linejoin="round" stroke-linecap="round" />
<polyline points="729.3,222.1 736.1,218.6" fill="none" stroke="#6a6a6a" stroke-width="0.3" stroke-linejoin="round" stroke-linecap="round" />
<polygon points="723,185.4 729.3,181.9 729.3,187.3 726.4,189.3" fill="#828282" stroke="#ffffff" stroke-width="0.7" stroke-linejoin="round" />
<polyline points="779.7,164.7 779.7,181.7" fill="none" stroke="#ffffff" stroke-width="2.8" stroke-linejoin="round" stroke-linecap="round" />
<polyline points="779.7,164.7 779.7,181.7" fill="none" stroke="#b5b5b5" stroke-width="1.1" stroke-linejoin="round" stroke-linecap="round" />
<path d="M758.1,188.4 L758.6,212.3 L767.4,233.8 L772.7,233.8 L782.4,218.6 L782.9,188.4 Z" fill="#6b6b6b" stroke="#ffffff" stroke-width="1" stroke-linejoin="round" stroke-linecap="round" />
<path d="M758.6,212.3 C764.5,205.9 777.1,206.9 782.4,218.6" fill="none" stroke="#ffffff" stroke-width="0.9" stroke-linejoin="round" stroke-linecap="round" />
<line x1="778.1" y1="191.2" x2="778.1" y2="225.4" stroke="#ffffff" stroke-width="0.9" />
<ellipse cx="769.9" cy="186.4" rx="14.2" ry="8.2" transform="rotate(0 769.9 186.4)" fill="#6b6b6b" stroke="#ffffff" stroke-width="1.6" />
<polyline points="762.1,229.3 782,241.1" fill="none" stroke="#ffffff" stroke-width="2.6" stroke-linejoin="round" stroke-linecap="round" />
<polyline points="762.1,229.3 782,241.1" fill="none" stroke="#6a6a6a" stroke-width="0.9" stroke-linejoin="round" stroke-linecap="round" />
<polyline points="767.4,238.1 778.1,228.4" fill="none" stroke="#ffffff" stroke-width="2.2" stroke-linejoin="round" stroke-linecap="round" />
<polyline points="767.4,238.1 778.1,228.4" fill="none" stroke="#6a6a6a" stroke-width="0.5" stroke-linejoin="round" stroke-linecap="round" />
<polyline points="779.1,224.5 779.1,237.1" fill="none" stroke="#ffffff" stroke-width="2" stroke-linejoin="round" stroke-linecap="round" />
<polyline points="779.1,224.5 779.1,237.1" fill="none" stroke="#6a6a6a" stroke-width="0.3" stroke-linejoin="round" stroke-linecap="round" />
<polyline points="758.6,185 768.4,189.3 783,181.5" fill="none" stroke="#ffffff" stroke-width="0.8" stroke-linejoin="round" stroke-linecap="round" stroke-dasharray="1.2 1.2"/>
<path d="M792.2,172.1 C793.8,183.4 788.9,193.2 789.8,204.9 S791.8,216.6 791,222.5" fill="none" stroke="#ffffff" stroke-width="2.6" stroke-linejoin="round" stroke-linecap="round" />
<path d="M792.2,172.1 C793.8,183.4 788.9,193.2 789.8,204.9 S791.8,216.6 791,222.5" fill="none" stroke="#555" stroke-width="0.9" stroke-linejoin="round" stroke-linecap="round" />
<path d="M790,220.9 L792.8,220.9 L793.8,225.4 L789.1,225.4 Z" fill="#6b6b6b" stroke="#ffffff" stroke-width="0.9" stroke-linejoin="round" stroke-linecap="round" />
<ellipse cx="791.4" cy="228.8" rx="4.4" ry="4.2" transform="rotate(0 791.4 228.8)" fill="#6b6b6b" stroke="#ffffff" stroke-width="1" />
<ellipse cx="809" cy="181.7" rx="9.5" ry="4.2" transform="rotate(38 809 181.7)" fill="#6b6b6b" stroke="#ffffff" stroke-width="1" />
<ellipse cx="804.9" cy="191" rx="9.4" ry="5.6" transform="rotate(0 804.9 191)" fill="#828282" stroke="#ffffff" stroke-width="1" />
<path d="M796.1,192.1 C797.2,200.3 810.4,202.5 813.9,193.4" fill="#6b6b6b" stroke="#ffffff" stroke-width="1" stroke-linejoin="round" stroke-linecap="round" />
<ellipse cx="804.9" cy="191" rx="9.4" ry="5.6" transform="rotate(0 804.9 191)" fill="#828282" stroke="#ffffff" stroke-width="1" />
<ellipse cx="804.9" cy="190.7" rx="5.8" ry="3.2" transform="rotate(0 804.9 190.7)" fill="#e4e4e4" stroke="#ffffff" stroke-width="0.7" />
<polyline points="822.1,222.7 822.1,248.1" fill="none" stroke="#ffffff" stroke-width="2.6" stroke-linejoin="round" stroke-linecap="round" />
<polyline points="822.1,222.7 822.1,248.1" fill="none" stroke="#6a6a6a" stroke-width="0.9" stroke-linejoin="round" stroke-linecap="round" />
<polyline points="822.1,189.3 822.1,195.3" fill="none" stroke="#ffffff" stroke-width="2.8" stroke-linejoin="round" stroke-linecap="round" />
<polyline points="822.1,189.3 822.1,195.3" fill="none" stroke="#b5b5b5" stroke-width="1.1" stroke-linejoin="round" stroke-linecap="round" />
<ellipse cx="821.3" cy="208.5" rx="10.2" ry="17" transform="rotate(-22 821.3 208.5)" fill="#6b6b6b" stroke="#ffffff" stroke-width="1" />
<polygon points="696.8,146.9 722.8,134.1 748.8,149.7 722.8,163.3" fill="none" stroke="#ffffff" stroke-width="1.05" stroke-linejoin="round" stroke-dasharray="1.5 1.3"/>
<polyline points="748.8,163.3 761.7,156 795.3,175.6 783,182.5" fill="none" stroke="#ffffff" stroke-width="1.05" stroke-linejoin="round" stroke-linecap="round" stroke-dasharray="1.5 1.3"/>
<polyline points="795.3,182.5 807.6,175.6 837.7,200.3 826.8,205.7" fill="none" stroke="#ffffff" stroke-width="1.05" stroke-linejoin="round" stroke-linecap="round" stroke-dasharray="1.5 1.3"/>
<path d="M742,201.6 L737.5,205.9 L736.7,216.6 L739.1,219 L738.1,228.4 L736.7,238.1 L737.1,248.9 L735.9,251.8 L741.8,250.2 L744.1,240.1 L746.9,245.9 L746.5,253.4 L745.7,255.7 L755.7,256.1 L756.8,253.9 L751.2,250.8 L750.8,238.1 L750.4,224.5 L748.8,219 L753.3,216.8 L752.9,213.7 L748,206.9 L746.9,201.6 Z" fill="#2f75c8" stroke="#c4dbf6" stroke-width="0.7" stroke-linejoin="round"/>
<circle cx="744.5" cy="198.1" r="3.7" fill="#2f75c8" stroke="#c4dbf6" stroke-width="0.7"/>
<circle cx="744.5" cy="200.135" r="2.294" fill="#2f75c8"/>
<polygon points="553.8,271.6 553.8,311.1 589.8,290.9 589.8,283" fill="#6b6b6b" stroke="#ffffff" stroke-width="1" stroke-linejoin="round" />
<polygon points="554.4,270.8 630.2,227.7 692.1,282.2 651.7,305.2 646.6,305.2 622,302.1" fill="#6b6b6b" stroke="#ffffff" stroke-width="1" stroke-linejoin="round" />
<polygon points="553.8,271 620.6,305.5 627.5,301.5 560.7,267" fill="#7d7d7d" stroke="#ffffff" stroke-width="0.9" stroke-linejoin="round" />
<line x1="556.146" y1="269.64" x2="622.946" y2="304.14" stroke="#ffffff" stroke-width="0.8" />
<line x1="558.423" y1="268.32" x2="625.223" y2="302.82" stroke="#ffffff" stroke-width="0.8" />
<line x1="553.8" y1="271" x2="620.6" y2="305.5" stroke="#ffffff" stroke-width="1.3" />
<ellipse cx="627.6" cy="302.3" rx="7.5" ry="4.5" transform="rotate(-30 627.6 302.3)" fill="#6b6b6b" stroke="#ffffff" stroke-width="0.8" />
<line x1="591.3" y1="252.3" x2="630.2" y2="229.8" stroke="#ffffff" stroke-width="0.9" />
<polygon points="629.2,226.9 634.94,220.75 648.24,227.75 642.5,233.9" fill="#828282" stroke="#ffffff" stroke-width="0.9" stroke-linejoin="round" />
<polygon points="642.5,233.9 648.24,227.75 648.24,249.85 642.5,256" fill="#6b6b6b" stroke="#ffffff" stroke-width="0.9" stroke-linejoin="round" />
<polygon points="629.2,226.9 642.5,233.9 642.5,256 629.2,248.8" fill="#6b6b6b" stroke="#ffffff" stroke-width="0.9" stroke-linejoin="round" />
<polygon points="573.8,239.6 578.925,236.935 591.225,243.535 586.1,246.2" fill="#828282" stroke="#ffffff" stroke-width="0.9" stroke-linejoin="round" />
<polygon points="586.1,246.2 591.225,243.535 591.225,267.735 586.1,270.4" fill="#6b6b6b" stroke="#ffffff" stroke-width="0.9" stroke-linejoin="round" />
<polygon points="573.8,239.6 586.1,246.2 586.1,270.4 573.8,264.2" fill="#6b6b6b" stroke="#ffffff" stroke-width="0.9" stroke-linejoin="round" />
<polygon points="661,245.8 666.125,239.24 691.725,252.54 686.6,259.1" fill="#828282" stroke="#ffffff" stroke-width="0.9" stroke-linejoin="round" />
<polygon points="686.6,259.1 691.725,252.54 691.725,273.04 686.6,279.6" fill="#6b6b6b" stroke="#ffffff" stroke-width="0.9" stroke-linejoin="round" />
<polygon points="661,245.8 686.6,259.1 686.6,279.6 661,266.3" fill="#6b6b6b" stroke="#ffffff" stroke-width="0.9" stroke-linejoin="round" />
<line x1="599" y1="255" x2="599" y2="264.2" stroke="#ffffff" stroke-width="0.9" />
<ellipse cx="599" cy="255" rx="3.2" ry="3.2" transform="rotate(0 599 255)" fill="#6b6b6b" stroke="#ffffff" stroke-width="0.9" />
<ellipse cx="599" cy="264.8" rx="1.6" ry="1" transform="rotate(0 599 264.8)" fill="#ddd" stroke="#ffffff" stroke-width="0.5" />
<line x1="621.6" y1="241.7" x2="621.6" y2="250.9" stroke="#ffffff" stroke-width="0.9" />
<ellipse cx="621.6" cy="241.7" rx="3.2" ry="3.2" transform="rotate(0 621.6 241.7)" fill="#6b6b6b" stroke="#ffffff" stroke-width="0.9" />
<ellipse cx="621.6" cy="251.5" rx="1.6" ry="1" transform="rotate(0 621.6 251.5)" fill="#ddd" stroke="#ffffff" stroke-width="0.5" />
<line x1="616.9" y1="264.2" x2="616.9" y2="273.4" stroke="#ffffff" stroke-width="0.9" />
<ellipse cx="616.9" cy="264.2" rx="3.2" ry="3.2" transform="rotate(0 616.9 264.2)" fill="#6b6b6b" stroke="#ffffff" stroke-width="0.9" />
<ellipse cx="616.9" cy="274" rx="1.6" ry="1" transform="rotate(0 616.9 274)" fill="#ddd" stroke="#ffffff" stroke-width="0.5" />
<line x1="638.8" y1="251.9" x2="638.8" y2="261.1" stroke="#ffffff" stroke-width="0.9" />
<ellipse cx="638.8" cy="251.9" rx="3.2" ry="3.2" transform="rotate(0 638.8 251.9)" fill="#6b6b6b" stroke="#ffffff" stroke-width="0.9" />
<ellipse cx="638.8" cy="261.7" rx="1.6" ry="1" transform="rotate(0 638.8 261.7)" fill="#ddd" stroke="#ffffff" stroke-width="0.5" />
<line x1="653.8" y1="261.1" x2="653.8" y2="270.4" stroke="#ffffff" stroke-width="0.9" />
<ellipse cx="653.8" cy="261.1" rx="3.2" ry="3.2" transform="rotate(0 653.8 261.1)" fill="#6b6b6b" stroke="#ffffff" stroke-width="0.9" />
<ellipse cx="653.8" cy="271" rx="1.6" ry="1" transform="rotate(0 653.8 271)" fill="#ddd" stroke="#ffffff" stroke-width="0.5" />
<line x1="670.8" y1="270.4" x2="670.8" y2="279.6" stroke="#ffffff" stroke-width="0.9" />
<ellipse cx="670.8" cy="270.4" rx="3.2" ry="3.2" transform="rotate(0 670.8 270.4)" fill="#6b6b6b" stroke="#ffffff" stroke-width="0.9" />
<ellipse cx="670.8" cy="280.2" rx="1.6" ry="1" transform="rotate(0 670.8 280.2)" fill="#ddd" stroke="#ffffff" stroke-width="0.5" />
<ellipse cx="612.8" cy="251.9" rx="6.4" ry="2.6" transform="rotate(30 612.8 251.9)" fill="#d8d8d8" stroke="#ffffff" stroke-width="0.8" />
<ellipse cx="612.8" cy="251.9" rx="4" ry="1.1" transform="rotate(30 612.8 251.9)" fill="#6b6b6b" stroke="none" stroke-width="1" />
<ellipse cx="634.3" cy="263.2" rx="6.4" ry="2.6" transform="rotate(30 634.3 263.2)" fill="#d8d8d8" stroke="#ffffff" stroke-width="0.8" />
<ellipse cx="634.3" cy="263.2" rx="4" ry="1.1" transform="rotate(30 634.3 263.2)" fill="#6b6b6b" stroke="none" stroke-width="1" />
<ellipse cx="657.9" cy="277.5" rx="6.4" ry="2.6" transform="rotate(30 657.9 277.5)" fill="#d8d8d8" stroke="#ffffff" stroke-width="0.8" />
<ellipse cx="657.9" cy="277.5" rx="4" ry="1.1" transform="rotate(30 657.9 277.5)" fill="#6b6b6b" stroke="none" stroke-width="1" />
<path d="M599.5,264.2 l2.5,1.6" fill="none" stroke="#3b86e0" stroke-width="1.2" stroke-linejoin="round" stroke-linecap="round" />
<path d="M628.2,247.8 l2.5,1.6" fill="none" stroke="#3b86e0" stroke-width="1.2" stroke-linejoin="round" stroke-linecap="round" />
<path d="M662,268.3 l2.5,1.6" fill="none" stroke="#3b86e0" stroke-width="1.2" stroke-linejoin="round" stroke-linecap="round" />
<polygon points="621,266.3 626.125,263.635 651.725,276.935 646.6,279.6" fill="#828282" stroke="#ffffff" stroke-width="0.9" stroke-linejoin="round" />
<polygon points="646.6,279.6 651.725,276.935 651.725,302.535 646.6,305.2" fill="#6b6b6b" stroke="#ffffff" stroke-width="0.9" stroke-linejoin="round" />
<polygon points="621,266.3 646.6,279.6 646.6,305.2 621,291.9" fill="#6b6b6b" stroke="#ffffff" stroke-width="0.9" stroke-linejoin="round" />
<path d="M352,277.1 L348.4,285.3 L345.4,291.6 L348.4,293.3 L348.4,306.9 L347.3,320.9 L346.6,328.7 L341.4,331.2 L343.7,333.4 L352.7,331.7 L353.6,325.6 L355.7,312.7 L357.8,323.3 L357.8,327 L362.5,328.2 L362.5,313.9 L362,297.5 L362.7,283.4 L360.2,278 L357.8,276.6 Z" fill="#2f75c8" stroke="#c4dbf6" stroke-width="0.7" stroke-linejoin="round"/>
<circle cx="355" cy="272.9" r="4" fill="#2f75c8" stroke="#c4dbf6" stroke-width="0.7"/>
<circle cx="355" cy="275.1" r="2.48" fill="#2f75c8"/>
<polyline points="441.2,344.8 441.2,369.4" fill="none" stroke="#ffffff" stroke-width="2.6" stroke-linejoin="round" stroke-linecap="round" />
<polyline points="441.2,344.8 441.2,369.4" fill="none" stroke="#6a6a6a" stroke-width="0.9" stroke-linejoin="round" stroke-linecap="round" />
<polyline points="457.6,337.8 457.6,362.4" fill="none" stroke="#ffffff" stroke-width="2.6" stroke-linejoin="round" stroke-linecap="round" />
<polyline points="457.6,337.8 457.6,362.4" fill="none" stroke="#6a6a6a" stroke-width="0.9" stroke-linejoin="round" stroke-linecap="round" />
<polyline points="453.6,317.8 453.6,328.4" fill="none" stroke="#ffffff" stroke-width="2.4" stroke-linejoin="round" stroke-linecap="round" />
<polyline points="453.6,317.8 453.6,328.4" fill="none" stroke="#6a6a6a" stroke-width="0.7" stroke-linejoin="round" stroke-linecap="round" />
<polygon points="436.5,315.5 454.1,306.8 462.3,311.5 462.3,313.1 444.7,322.5 436.5,317.4" fill="#828282" stroke="#ffffff" stroke-width="1" stroke-linejoin="round" />
<polygon points="436.5,315.5 454.1,306.8 462.3,311.5 444.7,320.6" fill="#6b6b6b" stroke="#ffffff" stroke-width="0.9" stroke-linejoin="round" />
<path d="M448.9,329.7 L470.3,316.6 L473.4,319.7 L453,336.5 C450.5,337.5 447.5,333 448.9,329.7 Z" fill="#828282" stroke="#ffffff" stroke-width="0.9" stroke-linejoin="round" stroke-linecap="round" />
<path d="M451.5,337 C452,341 458,344.5 467,343" fill="none" stroke="#ffffff" stroke-width="0.8" stroke-linejoin="round" stroke-linecap="round" />
<path d="M399,336.1 C397.8,322.5 403.7,314.3 415.4,312 L435.4,322.1 C443.6,324.4 446.6,330.7 445.9,341.3 L445.9,343.6 L425.5,353 L399,338.5 Z" fill="#6b6b6b" stroke="#ffffff" stroke-width="1.1" stroke-linejoin="round" stroke-linecap="round" />
<path d="M424.8,353 C423.6,335.4 429.5,326 436.5,323.7 C443.6,324.4 446.6,330.7 445.9,341.3" fill="none" stroke="#ffffff" stroke-width="1.1" stroke-linejoin="round" stroke-linecap="round" />
<path d="M427.9,348.3 C427.1,336.6 431.8,329.1 437.2,327.2 C442.4,327.7 444.3,333.1 443.8,340.8 L427.9,348.3 Z" fill="#4d4d4d" stroke="#ffffff" stroke-width="0.9" stroke-linejoin="round" stroke-linecap="round" />
<path d="M431.8,346.4 C431.4,337.1 434.9,331.9 439.6,330" fill="none" stroke="#ffffff" stroke-width="0.7" stroke-linejoin="round" stroke-linecap="round" />
<line x1="429.5" y1="342.5" x2="443.6" y2="336.1" stroke="#ffffff" stroke-width="0.7" />
<line x1="399" y1="338.5" x2="425.5" y2="353" stroke="#ffffff" stroke-width="0.9" />
<path d="M409.1,302.6 L409.1,322.1 A4.3,2.2 0 0 0 417.7,322.1 L417.7,302.6 Z" fill="#828282" stroke="#ffffff" stroke-width="1" stroke-linejoin="round" stroke-linecap="round" />
<ellipse cx="413.4" cy="302.6" rx="4.3" ry="2.2" transform="rotate(0 413.4 302.6)" fill="#4d4d4d" stroke="#ffffff" stroke-width="1" />
<polyline points="406.7,343.6 406.7,370.6" fill="none" stroke="#ffffff" stroke-width="2.6" stroke-linejoin="round" stroke-linecap="round" />
<polyline points="406.7,343.6 406.7,370.6" fill="none" stroke="#6a6a6a" stroke-width="0.9" stroke-linejoin="round" stroke-linecap="round" />
<polyline points="423.6,353.5 423.6,380.7" fill="none" stroke="#ffffff" stroke-width="2.6" stroke-linejoin="round" stroke-linecap="round" />
<polyline points="423.6,353.5 423.6,380.7" fill="none" stroke="#6a6a6a" stroke-width="0.9" stroke-linejoin="round" stroke-linecap="round" />
<defs><linearGradient id="lg2" x1="0" y1="0" x2="1" y2="0"><stop offset="0" stop-color="#f5c33a" stop-opacity="0.95"/><stop offset="0.55" stop-color="#f0ae28" stop-opacity="0.9"/><stop offset="1" stop-color="#d9941c" stop-opacity="0.8"/></linearGradient></defs>
<polygon points="406.7,358.2 422.5,353 440.5,350.7 440.5,370.6 422.5,365.9" fill="url(#lg2)" stroke="none" stroke-width="1" stroke-linejoin="round" />
<path d="M450.1,357.7 l0,7 M450.1,356.1 l0,0.3" fill="none" stroke="#2f75c8" stroke-width="1.6" stroke-linejoin="round" stroke-linecap="round" />
<path d="M386.4,346.2 L381.2,354.9 L377,363.1 L388.3,376.2 L393.4,370.1 L405.1,364.8 L406.1,360.8 L397.2,359.6 L395.3,357.3 L401.2,359.6 L402.3,358 L395.3,352.6 L395.3,349.8 L393,346.7 Z" fill="#2f75c8" stroke="#c4dbf6" stroke-width="0.7" stroke-linejoin="round"/>
<circle cx="389.4" cy="342" r="3.9" fill="#2f75c8" stroke="#c4dbf6" stroke-width="0.7"/>
<circle cx="389.4" cy="344.145" r="2.418" fill="#2f75c8"/>
<path d="M386.4,366.6 L395.3,364.3 L390.6,359.6" fill="none" stroke="#cfe1f7" stroke-width="0.5" stroke-linejoin="round" stroke-linecap="round" />
<line x1="472.983" y1="387.892" x2="482.858" y2="389.05" stroke="#ffffff" stroke-width="1" />
<line x1="473.667" y1="382.283" x2="483.017" y2="383.2" stroke="#ffffff" stroke-width="1" />
<line x1="474.35" y1="376.675" x2="483.175" y2="377.35" stroke="#ffffff" stroke-width="1" />
<line x1="475.033" y1="371.067" x2="483.333" y2="371.5" stroke="#ffffff" stroke-width="1" />
<line x1="475.717" y1="365.458" x2="483.492" y2="365.65" stroke="#ffffff" stroke-width="1" />
<line x1="476.4" y1="359.85" x2="483.65" y2="359.8" stroke="#ffffff" stroke-width="1" />
<line x1="477.083" y1="354.242" x2="483.808" y2="353.95" stroke="#ffffff" stroke-width="1" />
<line x1="477.767" y1="348.633" x2="483.967" y2="348.1" stroke="#ffffff" stroke-width="1" />
<line x1="478.45" y1="343.025" x2="484.125" y2="342.25" stroke="#ffffff" stroke-width="1" />
<line x1="479.133" y1="337.417" x2="484.283" y2="336.4" stroke="#ffffff" stroke-width="1" />
<line x1="479.817" y1="331.808" x2="484.442" y2="330.55" stroke="#ffffff" stroke-width="1" />
<polyline points="472.3,393.5 480.5,326.2" fill="none" stroke="#ffffff" stroke-width="2.2" stroke-linejoin="round" stroke-linecap="round" />
<polyline points="472.3,393.5 480.5,326.2" fill="none" stroke="#6a6a6a" stroke-width="0.5" stroke-linejoin="round" stroke-linecap="round" />
<polyline points="482.7,394.9 484.6,324.7" fill="none" stroke="#ffffff" stroke-width="2.2" stroke-linejoin="round" stroke-linecap="round" />
<polyline points="482.7,394.9 484.6,324.7" fill="none" stroke="#6a6a6a" stroke-width="0.5" stroke-linejoin="round" stroke-linecap="round" />
<path d="M472.3,322.3 L465.5,329.1 L463.5,337 L464.5,344.8 L467.6,346.9 L464.5,359.4 L459.4,370.1 L461.4,375.2 L464.5,372.3 L472.3,359.8 L471.1,373 L474.3,376.2 L478.4,374.2 L477.2,359.4 L479.3,346.9 L481.3,343.8 L481.3,334 L479.7,325.2 L477.2,322.5 Z" fill="#2f75c8" stroke="#c4dbf6" stroke-width="0.7" stroke-linejoin="round"/>
<circle cx="475.8" cy="318.4" r="4.2" fill="#2f75c8" stroke="#c4dbf6" stroke-width="0.7"/>
<circle cx="475.8" cy="320.71" r="2.604" fill="#2f75c8"/>
<path d="M464.5,344.8 C470.4,347.3 478.2,346.1 485,341.8" fill="none" stroke="#dfe9f7" stroke-width="0.7" stroke-linejoin="round" stroke-linecap="round" stroke-dasharray="1.4 1"/>
<path d="M483,330.1 C487,333 487,338.9 485,341.8" fill="none" stroke="#fff" stroke-width="0.7" stroke-linejoin="round" stroke-linecap="round" />
<path d="M582.6,346.9 L582.6,363.3 C582.6,370.4 580.3,371.5 574.4,373.9 L555.7,382.6" fill="none" stroke="#ffffff" stroke-width="3.6" stroke-linejoin="round" stroke-linecap="round" />
<path d="M582.6,346.9 L582.6,363.3 C582.6,370.4 580.3,371.5 574.4,373.9 L555.7,382.6" fill="none" stroke="#666" stroke-width="1.7" stroke-linejoin="round" stroke-linecap="round" />
<ellipse cx="581.9" cy="365.7" rx="4.5" ry="5.5" transform="rotate(0 581.9 365.7)" fill="#6b6b6b" stroke="#ffffff" stroke-width="0.9" />
<path d="M502.9,393.8 C501.7,380.9 507.6,374.6 517,372.2 L540.4,383.3 C547.5,384.4 549.8,390.3 548.6,400.8 L548.6,404.4 L528.7,413.7 L502.9,399.7 Z" fill="#6b6b6b" stroke="#ffffff" stroke-width="1.1" stroke-linejoin="round" stroke-linecap="round" />
<path d="M542.8,380.9 C542.8,370.4 547.5,365.2 553.3,364.5 C559.2,365.7 560.4,371.5 559.9,378.6 L559.9,380.9 L547.5,387.2 Z" fill="#6b6b6b" stroke="#ffffff" stroke-width="1" stroke-linejoin="round" stroke-linecap="round" />
<path d="M527.5,410.2 C526.4,395 532.2,385.6 540.4,383.7 C547.5,384.4 549.8,390.3 548.6,400.8" fill="none" stroke="#ffffff" stroke-width="1.1" stroke-linejoin="round" stroke-linecap="round" />
<path d="M530.3,406.7 C529.4,396.2 534.6,388.6 540.4,387.2 C545.8,387.9 547.5,392.6 546.8,399.7 L530.3,406.7 Z" fill="#4d4d4d" stroke="#ffffff" stroke-width="0.9" stroke-linejoin="round" stroke-linecap="round" />
<polygon points="531.3,402.7 537.8,390.5 547.2,403.2 546.3,406" fill="#f7dc80" stroke="none" stroke-width="1" stroke-linejoin="round" />
<line x1="502.9" y1="399.7" x2="528.7" y2="413.7" stroke="#ffffff" stroke-width="0.9" />
<line x1="528.7" y1="413.7" x2="528.7" y2="410.2" stroke="#ffffff" stroke-width="0.9" />
<polygon points="497,365.7 570.9,323 599.1,336.4 525.2,379.7" fill="#6b6b6b" stroke="#ffffff" stroke-width="1.1" stroke-linejoin="round" />
<polygon points="497,365.7 525.2,379.7 599.1,336.4 599.1,338 525.2,381.3 497,367.3" fill="#828282" stroke="#ffffff" stroke-width="0.6" stroke-linejoin="round" />
<polygon points="545.1,337.5 570.9,323 599.1,336.4 580.3,346.9 567.4,353.5" fill="#8c8c8c" stroke="none" stroke-width="1" stroke-linejoin="round" />
<polygon points="542.1,338.7 545.1,337.1 568.6,351.6 566.2,353.9" fill="#e8e8e8" stroke="none" stroke-width="1" stroke-linejoin="round" />
<polygon points="497,365.7 570.9,323 599.1,336.4 525.2,379.7" fill="none" stroke="#ffffff" stroke-width="1.1" stroke-linejoin="round" />
<ellipse cx="517" cy="363.3" rx="4.2" ry="2.4" transform="rotate(0 517 363.3)" fill="#111" stroke="#ffffff" stroke-width="1.6" />
<polyline points="544.4,370.4 544.4,379.7" fill="none" stroke="#ffffff" stroke-width="2.4" stroke-linejoin="round" stroke-linecap="round" />
<polyline points="544.4,370.4 544.4,379.7" fill="none" stroke="#6a6a6a" stroke-width="0.7" stroke-linejoin="round" stroke-linecap="round" />
<polyline points="513.5,374.6 513.5,382.1" fill="none" stroke="#ffffff" stroke-width="2.2" stroke-linejoin="round" stroke-linecap="round" />
<polyline points="513.5,374.6 513.5,382.1" fill="none" stroke="#6a6a6a" stroke-width="0.5" stroke-linejoin="round" stroke-linecap="round" />
<ellipse cx="569.7" cy="330" rx="7.5" ry="4.2" transform="rotate(-28 569.7 330)" fill="#4d4d4d" stroke="#ffffff" stroke-width="1" />
<path d="M568.6,328.1 C568.6,319.9 573.3,316.4 577.2,318.3 C581.9,321.1 584.3,328.1 583.3,332.8 Z" fill="#828282" stroke="#ffffff" stroke-width="1" stroke-linejoin="round" stroke-linecap="round" />
<path d="M568.6,328.1 C572.1,335.2 579.1,337.5 583.3,332.8 Z" fill="#6b6b6b" stroke="#ffffff" stroke-width="0.9" stroke-linejoin="round" stroke-linecap="round" />
<line x1="513.5" y1="356.3" x2="543.9" y2="343.4" stroke="#9fb4cc" stroke-width="0.5" stroke-dasharray="1.5 1.5"/>
<path d="M565.9,400.3 L563.6,403.6 L559.7,408.9 L556.5,409.3 L549.1,405.6 L547.8,407.5 L556.1,413.2 L559.9,414 L562.2,419 L561.2,428.8 L564.1,440.5 L564.7,447.1 L560,448.3 L561.2,451.4 L567.1,453.4 L569.2,448.3 L570,438.5 L571,448.3 L573.1,449.5 L573.1,438.5 L573.5,424.9 L574.1,413.2 L574.7,404.4 L571,400.9 Z" fill="#2f75c8" stroke="#c4dbf6" stroke-width="0.7" stroke-linejoin="round"/>
<circle cx="567.1" cy="396.8" r="3.6" fill="#2f75c8" stroke="#c4dbf6" stroke-width="0.7"/>
<circle cx="567.1" cy="398.78" r="2.232" fill="#2f75c8"/>
<path d="M562.8,394 L571.4,394.8" fill="none" stroke="#2f75c8" stroke-width="1.6" stroke-linejoin="round" stroke-linecap="round" />
<path d="M545.6,405 L548.7,406.9" fill="none" stroke="#e8eef7" stroke-width="1" stroke-linejoin="round" stroke-linecap="round" />
<path d="M681.1,304.5 L679.3,314.3 L677.2,330.3 L679.3,333 L681.1,351.3 L677,353.3 L678.2,355 L683.2,353.5 L685,337.7 L687,351.3 L687.9,354.5 L692,353.9 L690.1,333.8 L691,320.1 L693,314.3 L691,308.4 L689.1,303.5 Z" fill="#2f75c8" stroke="#c4dbf6" stroke-width="0.7" stroke-linejoin="round"/>
<circle cx="684.2" cy="299.8" r="4" fill="#2f75c8" stroke="#c4dbf6" stroke-width="0.7"/>
<circle cx="684.2" cy="302" r="2.48" fill="#2f75c8"/>
<path d="M680.7,298.7 L680.1,306.9 L688.3,306.9 L687.9,298.7 Z" fill="#2f75c8" stroke="none" stroke-width="1" stroke-linejoin="round" stroke-linecap="round" />
<path d="M669.4,310.4 L665.5,318.2 L663.5,333.8 L667.4,335.9 L669.4,352.3 L665.3,354.3 L666.5,356.4 L674.3,355.4 L675.4,352.3 L674.5,335.7 L677.4,330.3 L678.4,314.3 L678,309.4 Z" fill="#2f75c8" stroke="#c4dbf6" stroke-width="0.7" stroke-linejoin="round"/>
<circle cx="674.3" cy="306.5" r="4.4" fill="#2f75c8" stroke="#c4dbf6" stroke-width="0.7"/>
<circle cx="674.3" cy="308.92" r="2.728" fill="#2f75c8"/>
<path d="M670,305.5 L668,314.3 L678.2,314.3 L678.6,305.5 Z" fill="#2f75c8" stroke="none" stroke-width="1" stroke-linejoin="round" stroke-linecap="round" />
<line x1="217.6" y1="317.5" x2="588.7" y2="103.6" stroke="#ffffff" stroke-width="0.9" opacity="0.4"/>
<line x1="588.7" y1="103.6" x2="892.7" y2="278.4" stroke="#ffffff" stroke-width="0.9" opacity="0.4"/>
<line x1="217.6" y1="245.8" x2="521.7" y2="419.8" stroke="#ffffff" stroke-width="1.3" />
<line x1="521.7" y1="419.8" x2="892.7" y2="206.5" stroke="#ffffff" stroke-width="1.3" />
<line x1="217.6" y1="317.5" x2="521.7" y2="492" stroke="#ffffff" stroke-width="1.3" />
<line x1="521.7" y1="492" x2="892.7" y2="278.4" stroke="#ffffff" stroke-width="1.3" />
<line x1="217.6" y1="245.8" x2="217.6" y2="317.5" stroke="#ffffff" stroke-width="1" stroke-dasharray="1 1.2"/>
<line x1="521.7" y1="419.8" x2="521.7" y2="492" stroke="#ffffff" stroke-width="1" stroke-dasharray="1 1.2"/>
<line x1="892.7" y1="206.5" x2="892.7" y2="278.4" stroke="#ffffff" stroke-width="1" stroke-dasharray="1 1.2"/>
<text transform="translate(352.6,425) rotate(27.5)" font-size="11.8" fill="#fff" text-anchor="middle" textLength="21.6" lengthAdjust="spacingAndGlyphs" stroke="#fff" stroke-width="0.45">10m</text>
<text transform="translate(729.6,397.7) rotate(-27.5)" font-size="11.8" fill="#fff" text-anchor="middle" textLength="21.2" lengthAdjust="spacingAndGlyphs" stroke="#fff" stroke-width="0.45">12m</text>
<text x="900.5" y="245.9" font-size="11.4" font-weight="normal" fill="#ffffff" text-anchor="start" textLength="31.4" lengthAdjust="spacingAndGlyphs" stroke="#fff" stroke-width="0.45">2,10m</text>
<polygon points="756.6,429.2 771.2,434.4 752.6,443.3" fill="#ffffff" stroke="none" stroke-width="1" stroke-linejoin="round" />
<circle cx="323" cy="220" r="7.8" fill="#000" stroke="#fff" stroke-width="0.85"/>
<text x="323" y="223.384" font-size="9.4" fill="#fff" stroke="#fff" stroke-width="0.3" text-anchor="middle" textLength="10.8" lengthAdjust="spacingAndGlyphs">D1</text>
<circle cx="393.9" cy="175" r="7.8" fill="#000" stroke="#fff" stroke-width="0.85"/>
<text x="393.9" y="178.384" font-size="9.4" fill="#fff" stroke="#fff" stroke-width="0.3" text-anchor="middle" textLength="10.8" lengthAdjust="spacingAndGlyphs">D2</text>
<circle cx="438.4" cy="146" r="7.8" fill="#000" stroke="#fff" stroke-width="0.85"/>
<text x="438.4" y="149.384" font-size="9.4" fill="#fff" stroke="#fff" stroke-width="0.3" text-anchor="middle" textLength="10.8" lengthAdjust="spacingAndGlyphs">D3</text>
<circle cx="486.8" cy="114.8" r="7.8" fill="#000" stroke="#fff" stroke-width="0.85"/>
<text x="486.8" y="118.184" font-size="9.4" fill="#fff" stroke="#fff" stroke-width="0.3" text-anchor="middle" textLength="10.8" lengthAdjust="spacingAndGlyphs">D4</text>
<circle cx="542" cy="79.8" r="7.8" fill="#000" stroke="#fff" stroke-width="0.85"/>
<text x="542" y="83.184" font-size="9.4" fill="#fff" stroke="#fff" stroke-width="0.3" text-anchor="middle" textLength="10.8" lengthAdjust="spacingAndGlyphs">D5</text>
<circle cx="595.2" cy="166" r="7.8" fill="#000" stroke="#fff" stroke-width="0.85"/>
<text x="595.2" y="169.384" font-size="9.4" fill="#fff" stroke="#fff" stroke-width="0.3" text-anchor="middle" textLength="10.8" lengthAdjust="spacingAndGlyphs">E1</text>
<circle cx="557.2" cy="185.3" r="7.8" fill="#000" stroke="#fff" stroke-width="0.85"/>
<text x="557.2" y="188.684" font-size="9.4" fill="#fff" stroke="#fff" stroke-width="0.3" text-anchor="middle" textLength="10.8" lengthAdjust="spacingAndGlyphs">E2</text>
<circle cx="663.1" cy="173.1" r="5.9" fill="#000" stroke="#fff" stroke-width="0.85"/>
<text x="663.1" y="176.052" font-size="8.2" fill="#fff" stroke="#fff" stroke-width="0.3" text-anchor="middle">E</text>
<circle cx="749.6" cy="129.7" r="7.8" fill="#000" stroke="#fff" stroke-width="0.85"/>
<text x="749.6" y="133.084" font-size="9.4" fill="#fff" stroke="#fff" stroke-width="0.3" text-anchor="middle" textLength="10.8" lengthAdjust="spacingAndGlyphs">F1</text>
<circle cx="788.6" cy="152.3" r="7.8" fill="#000" stroke="#fff" stroke-width="0.85"/>
<text x="788.6" y="155.684" font-size="9.4" fill="#fff" stroke="#fff" stroke-width="0.3" text-anchor="middle" textLength="10.8" lengthAdjust="spacingAndGlyphs">F2</text>
<circle cx="831" cy="176.7" r="7.8" fill="#000" stroke="#fff" stroke-width="0.85"/>
<text x="831" y="180.084" font-size="9.4" fill="#fff" stroke="#fff" stroke-width="0.3" text-anchor="middle" textLength="10.8" lengthAdjust="spacingAndGlyphs">F3</text>
<circle cx="705.8" cy="275.8" r="5.9" fill="#000" stroke="#fff" stroke-width="0.85"/>
<text x="705.8" y="278.752" font-size="8.2" fill="#fff" stroke="#fff" stroke-width="0.3" text-anchor="middle">A</text>
<circle cx="610.1" cy="346.4" r="5.9" fill="#000" stroke="#fff" stroke-width="0.85"/>
<text x="610.1" y="349.352" font-size="8.2" fill="#fff" stroke="#fff" stroke-width="0.3" text-anchor="middle">B</text>
<circle cx="479.5" cy="301" r="5.9" fill="#000" stroke="#fff" stroke-width="0.85"/>
<text x="479.5" y="303.952" font-size="8.2" fill="#fff" stroke="#fff" stroke-width="0.3" text-anchor="middle">C</text>
</svg>
</body></html>
